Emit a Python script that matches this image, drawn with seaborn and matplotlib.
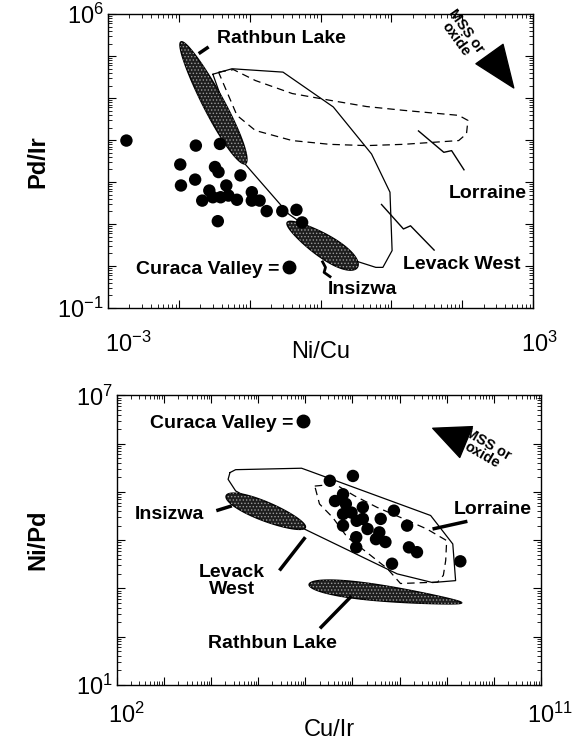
import numpy as np
import matplotlib
matplotlib.use("Agg")
import matplotlib.pyplot as plt
import matplotlib.transforms as mtransforms
import seaborn as sns
from matplotlib.lines import Line2D
from matplotlib.ticker import LogLocator, NullFormatter

# ---------------- data (log10 units) ----------------
# top panel: Ni/Cu vs Pd/Ir
top_dots_x = [-2.74, -1.76, -1.42, -1.98, -1.97, -1.77, -1.49, -1.44, -1.13, -1.33,
              -1.57, -1.67, -1.52, -1.41, -1.30, -1.18, -0.97, -0.97, -0.86, -0.76,
              -1.45, -0.54, -0.34, -0.26]
top_dots_y = [2.99, 2.87, 2.91, 2.42, 1.92, 2.06, 2.36, 2.24, 2.16, 1.92,
              1.80, 1.56, 1.64, 1.64, 1.68, 1.58, 1.76, 1.56, 1.56, 1.31,
              1.07, 1.31, 1.34, 1.04]

top_levack_x = [-1.52, -1.25, -0.53, 0.18, 0.72, 0.98, 1.01, 0.88, 0.78, 0.52, -0.45, -1.07, -1.52]
top_levack_y = [4.57, 4.70, 4.62, 3.79, 2.67, 1.76, 0.37, -0.03, -0.03, 0.11, 1.24, 2.44, 4.57]

top_lorraine_x = [-1.44, -1.23, -0.92, -0.40, 0.13, 0.65, 1.17, 1.95, 2.08, 2.06, 1.95,
                  1.17, 0.65, 0.13, -0.40, -0.92, -1.18, -1.44]
top_lorraine_y = [4.62, 4.68, 4.42, 4.11, 3.95, 3.80, 3.71, 3.59, 3.47, 3.15, 2.99,
                  2.90, 2.87, 2.90, 2.99, 3.23, 3.59, 4.62]

top_rathbun = [(-1.97, 5.34), (-1.06, 2.44)]
top_insizwa = [(-0.47, 1.04), (0.52, -0.03)]

# bottom panel: Cu/Ir vs Ni/Pd
bot_dots_x = [6.52, 7.01, 6.80, 6.63, 6.86, 6.80, 6.98, 7.22, 7.09, 7.22, 7.32, 7.08,
              7.08, 6.80, 7.60, 7.88, 7.57, 7.50, 7.70, 8.16, 8.20, 8.37, 7.84, 9.29]
bot_dots_y = [5.23, 5.33, 4.95, 4.81, 4.75, 4.54, 4.57, 4.68, 4.40, 4.44, 4.23, 4.06,
              3.85, 4.30, 4.44, 4.61, 4.16, 4.02, 3.96, 4.30, 3.85, 3.75, 3.51, 3.56]

bot_levack_x = [4.40, 4.52, 5.92, 6.09, 8.66, 9.13, 9.19, 8.70, 7.95, 6.00, 4.52, 4.36, 4.40]
bot_levack_y = [5.40, 5.46, 5.49, 5.43, 4.51, 3.92, 3.16, 3.12, 3.30, 4.22, 5.02, 5.26, 5.40]

bot_lorraine_x = [6.20, 6.63, 7.04, 7.52, 8.02, 8.58, 9.00, 8.98, 8.93, 8.81, 8.02,
                  7.74, 7.30, 6.89, 6.58, 6.30, 6.20]
bot_lorraine_y = [5.12, 5.16, 4.92, 4.68, 4.47, 4.23, 3.99, 3.58, 3.27, 3.13, 3.10,
                  3.41, 3.75, 4.06, 4.47, 4.75, 5.12]

bot_rathbun = [(6.08, 3.08), (9.32, 2.70)]
bot_insizwa = [(4.32, 4.92), (6.00, 4.26)]

plt.rcParams['hatch.linewidth'] = 0.6
sns.set_theme(style='ticks')
plt.rcParams['font.family'] = ['Liberation Sans', 'DejaVu Sans']
plt.rcParams['mathtext.default'] = 'regular'
for key in ['text.color', 'axes.labelcolor', 'xtick.color', 'ytick.color', 'axes.edgecolor']:
    plt.rcParams[key] = 'black'

fig = plt.figure(figsize=(5.76, 7.46), dpi=100)
ax1 = fig.add_axes([0.1875, 0.587, 0.738, 0.394])
ax2 = fig.add_axes([0.203, 0.082, 0.736, 0.388])


def setup(ax, xlim, ylim, xlab, ylab, xpad, xlab_y, ylab_x, xshift):
    ax.set_xscale('log')
    ax.set_yscale('log')
    ax.set_xlim(10.0 ** xlim[0], 10.0 ** xlim[1])
    ax.set_ylim(10.0 ** ylim[0], 10.0 ** ylim[1])
    for axis, lims, setter, lab in ((ax.xaxis, xlim, ax.set_xticks, ax.set_xticklabels),
                                    (ax.yaxis, ylim, ax.set_yticks, ax.set_yticklabels)):
        exps = np.arange(lims[0], lims[1] + 1)
        setter(10.0 ** exps)
        lab([r'$10^{%d}$' % e if e in lims else '' for e in exps])
        axis.set_minor_locator(LogLocator(base=10, subs=np.arange(2, 10), numticks=30))
        axis.set_minor_formatter(NullFormatter())
    ax.tick_params(which='both', direction='in', top=True, right=True)
    ax.tick_params(which='major', length=6, width=0.8, labelsize=17)
    ax.tick_params(which='minor', length=3, width=0.6)
    ax.tick_params(axis='x', which='major', pad=xpad)
    ax.tick_params(axis='y', which='major', pad=3)
    # nudge the end labels of the x axis like the print
    ticks = ax.get_xticklabels()
    ticks[0].set_transform(ticks[0].get_transform() +
                           mtransforms.ScaledTranslation(xshift[0] / 100, 0, fig.dpi_scale_trans))
    ticks[-1].set_transform(ticks[-1].get_transform() +
                            mtransforms.ScaledTranslation(xshift[1] / 100, 0, fig.dpi_scale_trans))
    for s in ax.spines.values():
        s.set_linewidth(1.0)
    ax.set_xlabel(xlab, fontsize=17, va='center')
    ax.xaxis.set_label_coords(0.5, xlab_y)
    ax.set_ylabel(ylab, fontsize=17, fontweight='bold', va='center')
    ax.yaxis.set_label_coords(ylab_x, 0.5)


def blob(ax, p0, p1, width, taper=0.0, n=160):
    # ellipse-like shape between two end points, built in display space
    a = ax.transData.transform([10 ** p0[0], 10 ** p0[1]])
    b = ax.transData.transform([10 ** p1[0], 10 ** p1[1]])
    c = (a + b) / 2
    d = (b - a) / 2
    L = np.hypot(*d)
    u = d / L
    v = np.array([-u[1], u[0]])
    t = np.linspace(0, 2 * np.pi, n)
    along = np.cos(t)
    across = np.sin(t) * width * L * (1 - taper * along)
    pts = c + np.outer(along * L, u) + np.outer(across, v)
    data = ax.transData.inverted().transform(pts)
    ax.fill(data[:, 0], data[:, 1], facecolor='#1e1e1e', edgecolor='black', lw=1, zorder=3)
    ax.fill(data[:, 0], data[:, 1], facecolor='none', edgecolor='#9a9a9a', hatch='.....',
            lw=0, zorder=3)


def pw(vals):
    return 10.0 ** np.asarray(vals)


def label(ax, x, y, s, **kw):
    kw.setdefault('fontsize', 14)
    ax.text(10 ** x, 10 ** y, s, ha='center', va='center', fontweight='bold', zorder=5, **kw)


def leader(ax, xs, ys, lw=1.0):
    ax.plot(pw(xs), pw(ys), color='black', lw=lw, zorder=4, solid_capstyle='butt')


def curaca(ax, anchor):
    h = Line2D([], [], ls='none', marker='o', color='black', markersize=9)
    ax.legend([h], ['Curaca Valley ='], loc='center left', bbox_to_anchor=anchor,
              frameon=False, markerfirst=False, handletextpad=0.1, handlelength=0.8,
              borderaxespad=0, prop={'weight': 'bold', 'size': 14})


def mss(ax, tail, head, tx, ty, rot, style):
    ax.annotate('', xy=(10 ** head[0], 10 ** head[1]), xytext=(10 ** tail[0], 10 ** tail[1]),
                arrowprops=dict(arrowstyle=style, fc='black', ec='black', mutation_scale=20),
                zorder=5)
    ax.text(10 ** tx, 10 ** ty, 'MSS or\noxide', rotation=rot, ha='center', va='center',
            fontsize=10.5, fontweight='bold', linespacing=0.85, rotation_mode='anchor', zorder=5)


# ---------------- top panel ----------------
setup(ax1, (-3, 3), (-1, 6), 'Ni/Cu', 'Pd/Ir', xpad=17, xlab_y=-0.15, ylab_x=-0.165,
      xshift=(20, 6))
ax1.plot(pw(top_levack_x), pw(top_levack_y), color='black', lw=0.9, zorder=2)
ax1.plot(pw(top_lorraine_x), pw(top_lorraine_y), color='black', lw=0.9, ls=(0, (6, 4)), zorder=2)
blob(ax1, *top_rathbun, width=0.15, taper=-0.1)
blob(ax1, *top_insizwa, width=0.27, taper=-0.25)
sns.scatterplot(x=pw(top_dots_x), y=pw(top_dots_y), ax=ax1, color='black', s=80,
                edgecolor='none', legend=False, zorder=6)
leader(ax1, [1.375, 1.74, 1.85, 2.03], [3.23, 2.71, 2.75, 2.28])
leader(ax1, [0.854, 1.17, 1.27, 1.61], [1.48, 0.885, 0.96, 0.37])
leader(ax1, [-1.72, -1.58], [5.06, 5.22], lw=2.5)
leader(ax1, [0.02, 0.07, 0.05, 0.15], [0.13, -0.03, -0.15, -0.27], lw=2.0)
label(ax1, -0.55, 5.42, 'Rathbun Lake')
label(ax1, 2.36, 1.72, 'Lorraine')
label(ax1, 2.00, 0.05, 'Levack West')
label(ax1, 0.59, -0.55, 'Insizwa')
curaca(ax1, (0.047, 0.133))
mss(ax1, (2.44, 4.92), (2.75, 4.19), 1.98, 5.50, -54,
    'simple,head_length=1.5,head_width=1.2,tail_width=0.3')

# ---------------- bottom panel ----------------
setup(ax2, (2, 11), (1, 7), 'Cu/Ir', 'Ni/Pd', xpad=13, xlab_y=-0.155, ylab_x=-0.186,
      xshift=(10, 9))
ax2.plot(pw(bot_levack_x), pw(bot_levack_y), color='black', lw=0.9, zorder=2)
ax2.plot(pw(bot_lorraine_x), pw(bot_lorraine_y), color='black', lw=0.9, ls=(0, (6, 4)), zorder=2)
blob(ax2, *bot_insizwa, width=0.22, taper=0.1)
blob(ax2, *bot_rathbun, width=0.10, taper=0.45)
sns.scatterplot(x=pw(bot_dots_x), y=pw(bot_dots_y), ax=ax2, color='black', s=80,
                edgecolor='none', legend=False, zorder=6)
leader(ax2, [4.11, 4.44], [4.61, 4.71], lw=2.5)
leader(ax2, [5.45, 6.00], [3.37, 4.06], lw=2.5)
leader(ax2, [6.31, 6.98], [2.17, 2.84], lw=2.5)
leader(ax2, [8.70, 9.44], [4.23, 4.39], lw=2.5)
label(ax2, 3.11, 4.54, 'Insizwa')
label(ax2, 4.44, 3.16, 'Levack\nWest', linespacing=1.0)
label(ax2, 5.30, 1.86, 'Rathbun Lake')
label(ax2, 9.98, 4.64, 'Lorraine')
curaca(ax2, (0.059, 0.904))
mss(ax2, (9.32, 6.07), (8.65, 6.34), 9.81, 5.87, -30,
    'simple,head_length=1.3,head_width=1.2,tail_width=0.6')

fig.savefig('out.png', dpi=100)
